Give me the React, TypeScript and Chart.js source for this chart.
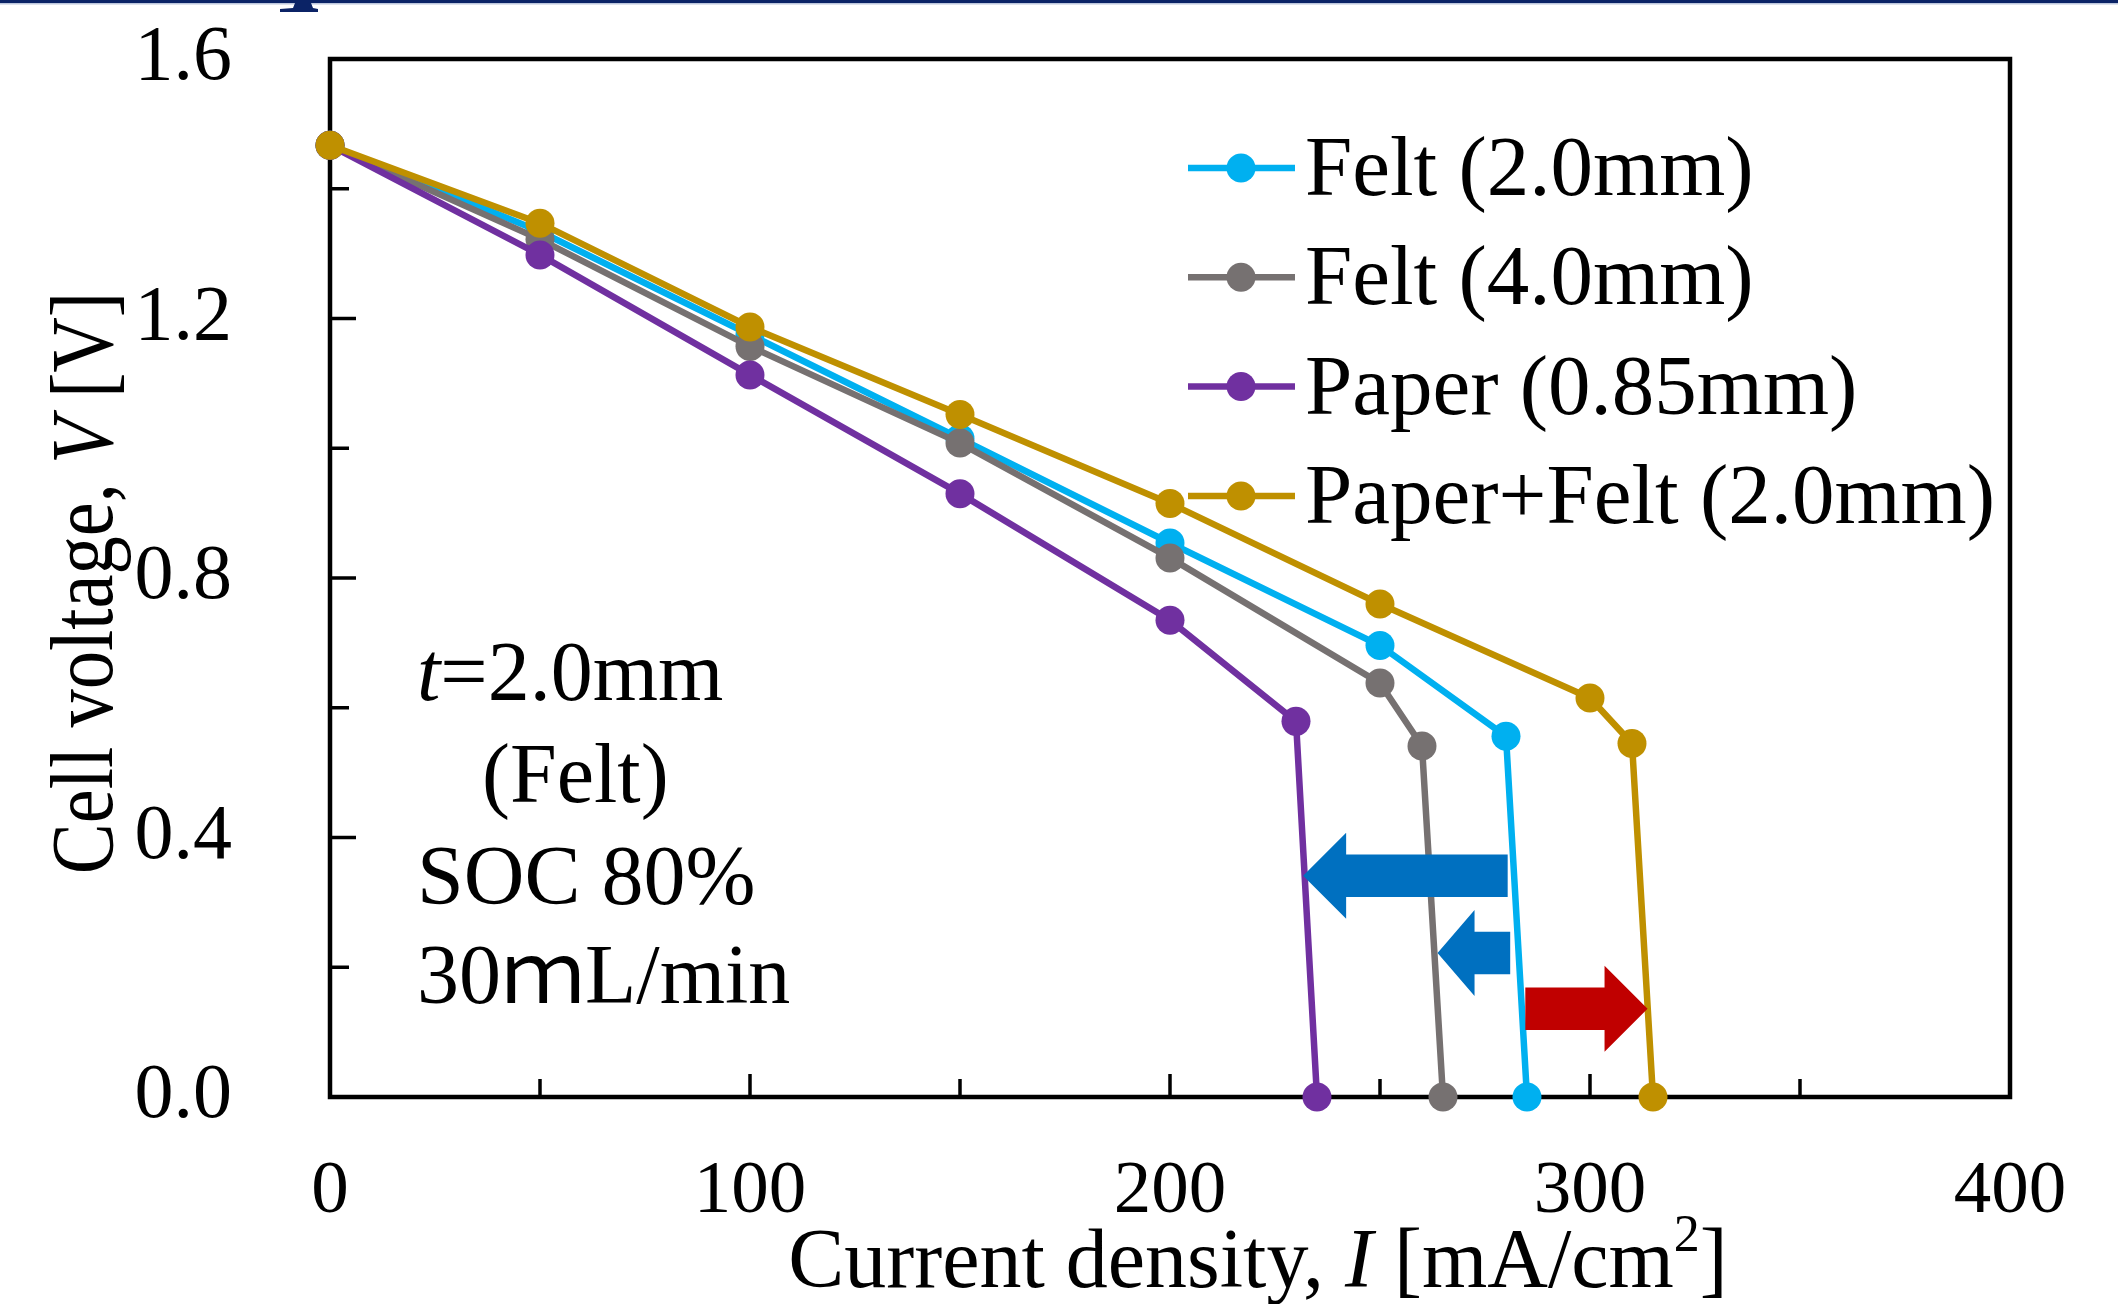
import React, { useEffect, useRef } from "react";
import { Chart, registerables } from "chart.js";

Chart.register(...registerables);

// ---- data ----
const currentFelt20 = [0, 50, 100, 150, 200, 250, 280, 285];
const voltageFelt20 = [1.467, 1.334, 1.175, 1.015, 0.854, 0.696, 0.556, 0];
const currentFelt40 = [0, 50, 100, 150, 200, 250, 260, 265];
const voltageFelt40 = [1.467, 1.322, 1.157, 1.008, 0.831, 0.638, 0.541, 0];
const currentPaper = [0, 50, 100, 150, 200, 230, 235];
const voltagePaper = [1.467, 1.298, 1.113, 0.93, 0.735, 0.579, 0];
const currentPaperFelt = [0, 50, 100, 150, 200, 250, 300, 310, 315];
const voltagePaperFelt = [1.467, 1.347, 1.187, 1.052, 0.915, 0.76, 0.615, 0.545, 0];

const seriesLabels = ["Felt (2.0mm)", "Felt (4.0mm)", "Paper (0.85mm)", "Paper+Felt (2.0mm)"];
const seriesColors = ["#00B0F0", "#767171", "#7030A0", "#BF9000"];

const xLabeledTicks = [0, 100, 200, 300, 400];
const yLabeledTicks = ["0.0", "0.4", "0.8", "1.2", "1.6"];

const noteLines = ["=2.0mm", "(Felt)", "SOC 80%", "30ｍL/min"];

// arrows (data units): tail current, tip current, voltage
const arrowTail = [280.4, 281, 284.6];
const arrowTip = [231.7, 263.7, 313.7];
const arrowVolt = [0.341, 0.222, 0.136];
const arrowColors = ["#0070C0", "#0070C0", "#C00000"];

const SERIF = '"Liberation Serif", "Times New Roman", serif';

type Part = { t: string; font: string; dy?: number };

function drawRich(ctx: CanvasRenderingContext2D, parts: Part[], x: number, y: number, align: "left" | "center") {
  let total = 0;
  const widths = parts.map((p) => {
    ctx.font = p.font;
    const w = ctx.measureText(p.t).width;
    total += w;
    return w;
  });
  let cx = align === "center" ? x - total / 2 : x;
  ctx.textAlign = "left";
  ctx.textBaseline = "alphabetic";
  parts.forEach((p, i) => {
    ctx.font = p.font;
    ctx.fillText(p.t, cx, y + (p.dy || 0));
    cx += widths[i];
  });
}

function makeDatasets() {
  const xs = [currentFelt20, currentFelt40, currentPaper, currentPaperFelt];
  const ys = [voltageFelt20, voltageFelt40, voltagePaper, voltagePaperFelt];
  const orders = [3, 2, 1, 0];
  return xs.map((xArr, i) => ({
    label: seriesLabels[i],
    data: xArr.map((v, j) => ({ x: v, y: ys[i][j] })),
    borderColor: seriesColors[i],
    backgroundColor: seriesColors[i],
    pointBackgroundColor: seriesColors[i],
    pointBorderWidth: 0,
    pointRadius: 14.5,
    borderWidth: 6.5,
    tension: 0,
    clip: false as any,
    order: orders[i],
  }));
}

const decorPlugin = {
  id: "decor",
  beforeDraw(chart: any) {
    const { ctx, width, height } = chart;
    ctx.save();
    ctx.fillStyle = "#ffffff";
    ctx.fillRect(0, 0, width, height);
    // top banner remnant
    ctx.fillStyle = "#0B2366";
    ctx.fillRect(0, 0, width, 3);
    ctx.fillStyle = "#BCC6DC";
    ctx.fillRect(0, 3, width, 1.5);
    ctx.fillStyle = "#0B2366";
    ctx.beginPath();
    ctx.moveTo(295, 3);
    ctx.lineTo(311, 3);
    ctx.lineTo(313, 8);
    ctx.lineTo(318, 9);
    ctx.lineTo(318, 12);
    ctx.lineTo(280, 12);
    ctx.lineTo(280, 9);
    ctx.lineTo(293, 8);
    ctx.closePath();
    ctx.fill();
    ctx.restore();
  },
  beforeDatasetsDraw(chart: any) {
    const { ctx, chartArea: a, scales } = chart;
    const x = scales.x;
    const y = scales.y;
    ctx.save();
    ctx.strokeStyle = "#000";
    ctx.lineCap = "butt";
    // inward ticks
    ctx.lineWidth = 3.5;
    x.ticks.forEach((t: any) => {
      if (t.value <= 0 || t.value >= 400) return;
      const px = x.getPixelForValue(t.value);
      const len = t.value % 100 === 0 ? 23 : 18;
      ctx.beginPath();
      ctx.moveTo(px, a.bottom);
      ctx.lineTo(px, a.bottom - len);
      ctx.stroke();
    });
    y.ticks.forEach((t: any) => {
      if (t.value <= 0.001 || t.value >= 1.599) return;
      const py = y.getPixelForValue(t.value);
      const len = Math.round(t.value * 10) % 4 === 0 ? 26 : 19;
      ctx.beginPath();
      ctx.moveTo(a.left, py);
      ctx.lineTo(a.left + len, py);
      ctx.stroke();
    });
    // frame
    ctx.lineWidth = 4.5;
    ctx.strokeRect(a.left, a.top, a.right - a.left, a.bottom - a.top);
    ctx.restore();
  },
  afterDatasetsDraw(chart: any) {
    const { ctx, scales } = chart;
    const x = scales.x;
    const y = scales.y;
    ctx.save();
    arrowTail.forEach((tail, i) => {
      const x0 = x.getPixelForValue(tail);
      const x1 = x.getPixelForValue(arrowTip[i]);
      const yc = y.getPixelForValue(arrowVolt[i]);
      const dir = Math.sign(x1 - x0);
      const headLen = i === 1 ? 37 : 43;
      const bodyHalf = 21.3;
      const headHalf = 43;
      const hb = x1 - dir * headLen;
      ctx.fillStyle = arrowColors[i];
      ctx.beginPath();
      ctx.moveTo(x0, yc - bodyHalf);
      ctx.lineTo(hb, yc - bodyHalf);
      ctx.lineTo(hb, yc - headHalf);
      ctx.lineTo(x1, yc);
      ctx.lineTo(hb, yc + headHalf);
      ctx.lineTo(hb, yc + bodyHalf);
      ctx.lineTo(x0, yc + bodyHalf);
      ctx.closePath();
      ctx.fill();
    });
    ctx.restore();
  },
  afterDraw(chart: any) {
    const { ctx } = chart;
    ctx.save();
    ctx.fillStyle = "#000";

    // legend
    seriesLabels.forEach((lab, i) => {
      const cy = 168 + i * 109.3;
      ctx.strokeStyle = seriesColors[i];
      ctx.lineWidth = 6.5;
      ctx.beginPath();
      ctx.moveTo(1188, cy);
      ctx.lineTo(1295, cy);
      ctx.stroke();
      ctx.fillStyle = seriesColors[i];
      ctx.beginPath();
      ctx.arc(1241, cy, 14.5, 0, Math.PI * 2);
      ctx.fill();
      ctx.fillStyle = "#000";
      ctx.font = `85px ${SERIF}`;
      ctx.textAlign = "left";
      ctx.textBaseline = "alphabetic";
      ctx.fillText(lab, 1305, cy + 27);
    });

    // x axis title
    const f = `84px ${SERIF}`;
    const fi = `italic 84px ${SERIF}`;
    drawRich(
      ctx,
      [
        { t: "Current density, ", font: f },
        { t: "I", font: fi },
        { t: " [mA/cm", font: f },
        { t: "2", font: `52px ${SERIF}`, dy: -36 },
        { t: "]", font: f },
      ],
      1258,
      1287,
      "center"
    );

    // y axis title
    ctx.save();
    ctx.translate(112, 583);
    ctx.rotate(-Math.PI / 2);
    ctx.scale(0.87, 1);
    const g = `88px ${SERIF}`;
    const gi = `italic 88px ${SERIF}`;
    drawRich(
      ctx,
      [
        { t: "Cell voltage, ", font: g },
        { t: "V", font: gi },
        { t: " [V]", font: g },
      ],
      0,
      0,
      "center"
    );
    ctx.restore();

    // condition notes
    const nf = `84px ${SERIF}`;
    drawRich(ctx, [{ t: "t", font: `italic 84px ${SERIF}` }, { t: noteLines[0], font: nf }], 417, 700, "left");
    drawRich(ctx, [{ t: noteLines[1], font: nf }], 482, 802, "left");
    drawRich(ctx, [{ t: noteLines[2], font: nf }], 417, 904, "left");
    drawRich(ctx, [{ t: noteLines[3], font: `84px ${SERIF}, "Noto Sans CJK JP"` }], 417, 1003, "left");

    ctx.restore();
  },
};

export default function App() {
  const ref = useRef<HTMLCanvasElement | null>(null);
  useEffect(() => {
    const canvas = ref.current;
    if (!canvas) return;
    const chart = new Chart(canvas, {
      type: "line",
      data: { datasets: makeDatasets() as any },
      options: {
        animation: false,
        responsive: false,
        devicePixelRatio: 1,
        layout: { padding: { top: 59, right: 108, left: 0, bottom: 0 } },
        plugins: { legend: { display: false }, tooltip: { enabled: false } },
        scales: {
          x: {
            type: "linear",
            min: 0,
            max: 400,
            grid: { display: false },
            border: { display: false },
            ticks: {
              stepSize: 50,
              autoSkip: false,
              maxRotation: 0,
              padding: 42,
              color: "#000",
              font: { family: SERIF, size: 75 },
              callback: (v: any) => (xLabeledTicks.includes(Number(v)) ? String(v) : ""),
            },
            afterFit: (s: any) => {
              s.height = 207;
              s.paddingLeft = 0;
              s.paddingRight = 0;
            },
          },
          y: {
            type: "linear",
            min: 0,
            max: 1.6,
            grid: { display: false },
            border: { display: false },
            ticks: {
              stepSize: 0.2,
              autoSkip: false,
              padding: 90,
              color: "#000",
              font: { family: SERIF, size: 78 },
              callback: (v: any) => {
                const s = Number(v).toFixed(1);
                return yLabeledTicks.includes(s) ? s : "";
              },
            },
            afterFit: (s: any) => {
              s.width = 330;
              s.paddingTop = 0;
              s.paddingBottom = 0;
            },
          },
        },
      },
      plugins: [decorPlugin],
    });
    return () => chart.destroy();
  }, []);
  return (
    <div style={{ position: "fixed", left: 0, top: 0, width: 2118, height: 1304, background: "#fff" }}>
      <canvas ref={ref} width={2118} height={1304} style={{ display: "block" }} />
    </div>
  );
}
